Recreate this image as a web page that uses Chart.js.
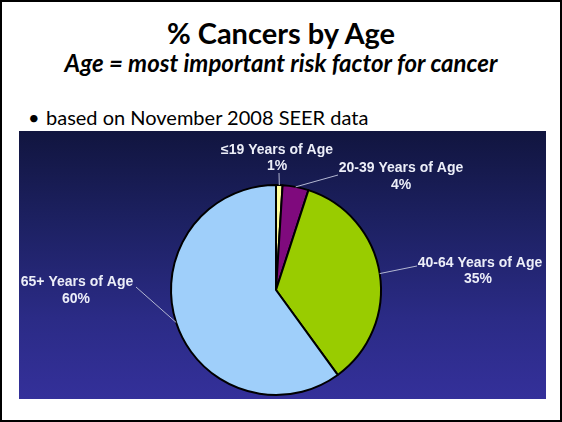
<!DOCTYPE html>
<html>
<head>
<meta charset="utf-8">
<script src="https://cdn.jsdelivr.net/npm/chart.js@4"></script>
<style>
  html, body { margin: 0; padding: 0; background: #fff; }
  .slide {
    position: relative; width: 562px; height: 422px; box-sizing: border-box;
    border: 2px solid #000; background: #fff; overflow: hidden;
    font-family: Lato, "Open Sans", sans-serif; color: #000;
  }
  .title { position: absolute; left: 0; right: 0; top: 14px; text-align: center; font-weight: 700; font-size: 29px; line-height: 34px; }
  .subtitle { position: absolute; left: 0; right: 0; top: 46px; text-align: center; font-weight: 700; font-style: italic; font-size: 24px; line-height: 30px; }
  .bullet { position: absolute; left: 44px; top: 102px; font-size: 20px; line-height: 26px; }
  .bullet::before { content: "\2022"; position: absolute; left: -18px; }
  .panel {
    position: absolute; left: 17px; top: 129px; width: 527px; height: 268px;
    background: linear-gradient(to bottom, #11153f 0%, #1d2163 35%, #2b2b86 70%, #34309a 100%);
  }
  canvas { display: block; }
</style>
</head>
<body>
<div class="slide">
  <div class="title">% Cancers by Age</div>
  <div class="subtitle">Age = most important risk factor for cancer</div>
  <div class="bullet">based on November 2008 SEER data</div>
  <div class="panel"><canvas id="agePie" width="527" height="268"></canvas></div>
</div>
<script>
// share of new cancer cases by age group (percent)
const ageGroups = ['≤19 Years of Age', '20-39 Years of Age', '40-64 Years of Age', '65+ Years of Age'];
const cancerShare = [1, 4, 35, 60];
const sliceColors = ['#FFFF99', '#7F0A7D', '#99CC00', '#9FCFFA'];

// where each callout sits, relative to the pie centre: text, percent line, leader end
const calloutLayout = [
  { text: [1, -140], pct: [1, -124], lead: [3, -117] },
  { text: [125, -122], pct: [125, -105], lead: [62, -115] },
  { text: [204, -27], pct: [202, -11], lead: [141, -24] },
  { text: [-199, -8], pct: [-200, 9], lead: [-140, -3] }
];

const calloutPlugin = {
  id: 'callouts',
  afterDatasetsDraw(chart) {
    const ctx = chart.ctx;
    const arcs = chart.getDatasetMeta(0).data;
    ctx.save();
    arcs.forEach((arc, i) => {
      const { x, y, startAngle, endAngle, outerRadius } = arc.getProps(['x', 'y', 'startAngle', 'endAngle', 'outerRadius'], true);
      const mid = (startAngle + endAngle) / 2;
      const rimX = x + Math.cos(mid) * outerRadius;
      const rimY = y + Math.sin(mid) * outerRadius;
      const lay = calloutLayout[i];

      ctx.strokeStyle = '#b4b8d2';
      ctx.lineWidth = 1;
      ctx.beginPath();
      ctx.moveTo(rimX, rimY);
      ctx.lineTo(x + lay.lead[0], y + lay.lead[1]);
      ctx.stroke();

      ctx.fillStyle = '#eceef8';
      ctx.font = 'bold 14px "Liberation Sans", Arial, sans-serif';
      ctx.textAlign = 'center';
      ctx.textBaseline = 'middle';
      ctx.fillText(ageGroups[i], x + lay.text[0], y + lay.text[1]);
      ctx.fillText(cancerShare[i] + '%', x + lay.pct[0], y + lay.pct[1]);
    });
    ctx.restore();
  }
};

new Chart(document.getElementById('agePie').getContext('2d'), {
  type: 'pie',
  data: {
    labels: ageGroups,
    datasets: [{
      data: cancerShare,
      backgroundColor: sliceColors,
      borderColor: '#000',
      borderWidth: 2
    }]
  },
  options: {
    responsive: false,
    animation: false,
    radius: 105,
    layout: { padding: { top: 55, bottom: 5, left: 0, right: 13 } },
    plugins: { legend: { display: false }, tooltip: { enabled: false } }
  },
  plugins: [calloutPlugin]
});
</script>
</body>
</html>
